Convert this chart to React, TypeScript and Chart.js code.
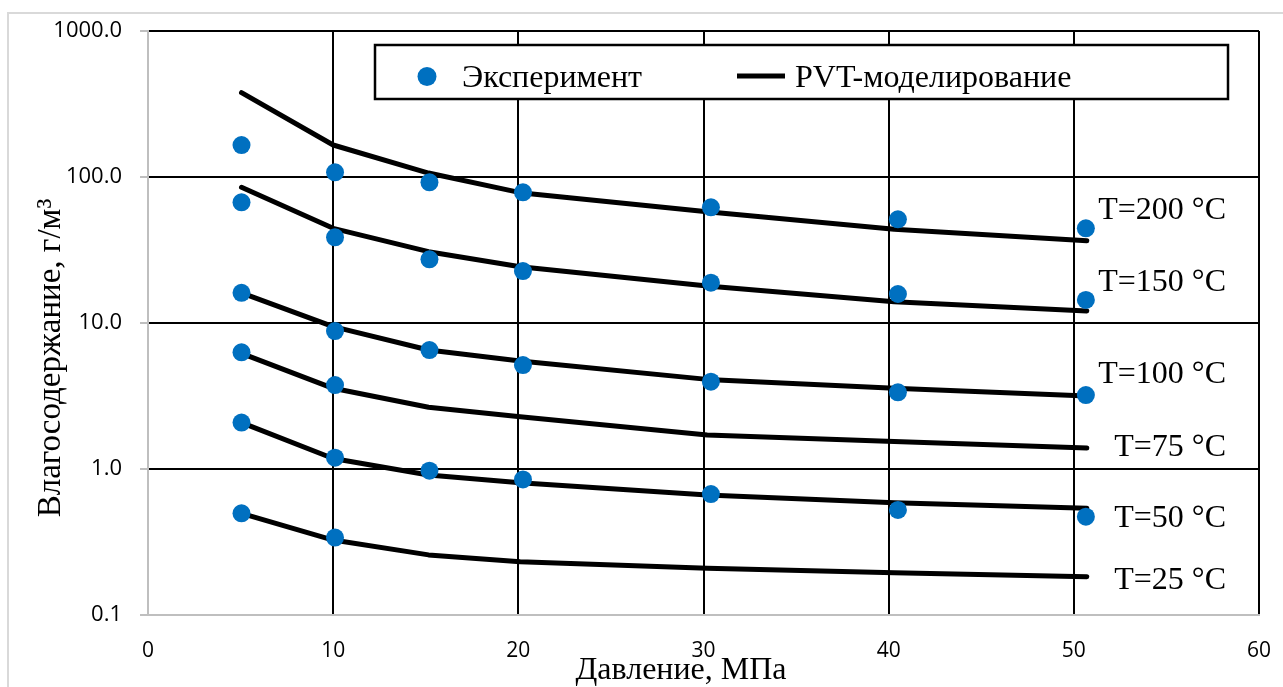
import React, { useEffect, useRef } from "react";
import { Chart, registerables } from "chart.js";

Chart.register(...registerables);

// ---- data ----
const pressureExp = [5.05, 10.1, 15.2, 20.25, 30.4, 40.5, 50.65];
const pressureModel = [5.05, 10.0, 15.15, 20.1, 30.2, 40.3, 50.7];

const temperatureLabels = ["T=200 °C", "T=150 °C", "T=100 °C", "T=75 °C", "T=50 °C", "T=25 °C"];

// experiment (г/м³)
const exp200 = [165.6, 107.7, 92.0, 78.5, 62.0, 51.3, 44.5];
const exp150 = [67.1, 38.6, 27.3, 22.7, 18.9, 15.8, 14.4];
const exp100 = [16.1, 8.81, 6.53, 5.15, 3.96, 3.35, 3.21];
const exp75 = [6.3, 3.76];
const exp50 = [2.08, 1.195, 0.973, 0.849, 0.674, 0.524, 0.471];
const exp25 = [0.497, 0.339];

// PVT modelling (г/м³)
const model200 = [378, 165.6, 106.4, 78.1, 57.8, 43.8, 36.6];
const model150 = [85.0, 44.5, 30.8, 24.3, 17.9, 14.0, 12.1];
const model100 = [16.1, 9.44, 6.53, 5.5, 4.11, 3.57, 3.16];
const model75 = [6.2, 3.57, 2.65, 2.28, 1.71, 1.54, 1.39];
const model50 = [2.08, 1.18, 0.91, 0.805, 0.664, 0.588, 0.538];
const model25 = [0.497, 0.326, 0.258, 0.232, 0.209, 0.195, 0.183];

const yTickValues = [0.1, 1, 10, 100, 1000];
const xTickValues = [0, 10, 20, 30, 40, 50, 60];

const legendExp = "Эксперимент";
const legendModel = "PVT-моделирование";
const xTitle = "Давление, МПа";
const yTitle = "Влагосодержание, г/м³";

// ---- styles / layout ----
const BLUE = "#0070C0";
const SERIF = '"Liberation Serif", "Times New Roman", serif';
const SANS = '"Open Sans", "Liberation Sans", sans-serif';
const GRAY = "#bfbfbf";
const labelCenters = [208, 280, 372, 445, 516, 578];

const expSeries = [exp200, exp150, exp100, exp75, exp50, exp25];
const modelSeries = [model200, model150, model100, model75, model50, model25];

const toPoints = (xs: number[], ys: number[]) => ys.map((y, i) => ({ x: xs[i], y }));

const overlayPlugin = {
  id: "overlay",
  afterDraw(chart: any) {
    const ctx = chart.ctx as CanvasRenderingContext2D;
    ctx.save();
    // legend box
    ctx.fillStyle = "#fff";
    ctx.fillRect(375, 45, 853, 54);
    ctx.lineWidth = 2.5;
    ctx.strokeStyle = "#000";
    ctx.strokeRect(375, 45, 853, 54);
    ctx.beginPath();
    ctx.arc(427, 76.5, 9.5, 0, Math.PI * 2);
    ctx.fillStyle = BLUE;
    ctx.fill();
    ctx.beginPath();
    ctx.lineWidth = 5;
    ctx.moveTo(737, 76);
    ctx.lineTo(785, 76);
    ctx.stroke();
    ctx.fillStyle = "#000";
    ctx.font = `32px ${SERIF}`;
    ctx.textBaseline = "alphabetic";
    ctx.textAlign = "left";
    ctx.fillText(legendExp, 462, 87);
    ctx.fillText(legendModel, 795, 87);

    // temperature labels
    ctx.textAlign = "right";
    temperatureLabels.forEach((t, i) => ctx.fillText(t, 1226, labelCenters[i] + 11));

    // x title
    ctx.textAlign = "center";
    ctx.fillText(xTitle, 681, 679);

    // y title
    ctx.font = `33px ${SERIF}`;
    ctx.translate(60, 358);
    ctx.rotate(-Math.PI / 2);
    ctx.fillText(yTitle, 0, 0);
    ctx.restore();
  },
};

export default function App() {
  const canvasRef = useRef<HTMLCanvasElement | null>(null);

  useEffect(() => {
    if (!canvasRef.current) return;
    const expSets = expSeries.map((ys, i) => ({
      type: "scatter" as const,
      label: `${legendExp} ${temperatureLabels[i]}`,
      data: toPoints(pressureExp, ys),
      backgroundColor: BLUE,
      borderColor: BLUE,
      borderWidth: 0,
      pointRadius: 9,
      showLine: false,
    }));
    const modelSets = modelSeries.map((ys, i) => ({
      type: "line" as const,
      label: `${legendModel} ${temperatureLabels[i]}`,
      data: toPoints(pressureModel, ys),
      borderColor: "#000",
      backgroundColor: "#000",
      borderWidth: 5,
      borderCapStyle: "round" as const,
      borderJoinStyle: "round" as const,
      pointRadius: 0,
      tension: 0,
      fill: false,
    }));

    const chart = new Chart(canvasRef.current, {
      type: "scatter",
      data: { datasets: [...expSets, ...modelSets] as any },
      options: {
        animation: false,
        responsive: false,
        maintainAspectRatio: false,
        layout: { padding: { left: 0, top: 31, right: 24, bottom: 0 } },
        plugins: { legend: { display: false }, tooltip: { enabled: false } },
        scales: {
          x: {
            type: "linear",
            min: 0,
            max: 60,
            afterFit: (s: any) => {
              s.height = 72;
              s.paddingLeft = 0;
              s.paddingRight = 0;
            },
            afterBuildTicks: (s: any) => {
              s.ticks = xTickValues.map((v) => ({ value: v }));
            },
            ticks: {
              color: "#000",
              font: { family: SANS, size: 21 },
              padding: 23,
              maxRotation: 0,
              autoSkip: false,
            },
            grid: {
              color: (c: any) => (c.tick && c.tick.value === 0 ? "rgba(0,0,0,0)" : "#000"),
              lineWidth: 2,
              drawTicks: false,
            },
            border: { display: true, color: GRAY, width: 2 },
          },
          y: {
            type: "logarithmic",
            min: 0.1,
            max: 1000,
            afterFit: (s: any) => {
              s.width = 148;
              s.paddingTop = 0;
              s.paddingBottom = 0;
            },
            afterBuildTicks: (s: any) => {
              s.ticks = yTickValues.map((v) => ({ value: v }));
            },
            ticks: {
              color: "#000",
              font: { family: SANS, size: 22 },
              padding: 18,
              callback: (v: any) => Number(v).toFixed(1),
              autoSkip: false,
            },
            grid: {
              color: (c: any) => (c.tick && c.tick.value === 0.1 ? "rgba(0,0,0,0)" : "#000"),
              lineWidth: 2,
              drawTicks: true,
              tickLength: 8,
              tickColor: GRAY,
              tickWidth: 2,
            },
            border: { display: true, color: GRAY, width: 2 },
          },
        },
      },
      plugins: [overlayPlugin],
    });
    return () => chart.destroy();
  }, []);

  return (
    <div style={{ position: "absolute", left: 0, top: 0, width: 1283, height: 687, overflow: "hidden", background: "#fff" }}>
      <div
        style={{
          position: "absolute",
          left: 7,
          top: 12,
          width: 1400,
          height: 800,
          borderLeft: "2px solid #d9d9d9",
          borderTop: "2px solid #d9d9d9",
        }}
      />
      <canvas ref={canvasRef} width={1283} height={687} style={{ position: "absolute", left: 0, top: 0 }} />
    </div>
  );
}
